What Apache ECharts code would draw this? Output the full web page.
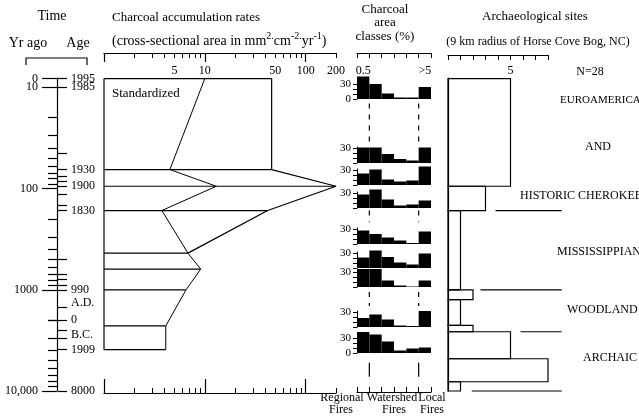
<!DOCTYPE html>
<html><head><meta charset="utf-8">
<script src="https://cdn.jsdelivr.net/npm/echarts@6/dist/echarts.min.js"></script>
<style>html,body{margin:0;padding:0;background:#fff}#c{width:639px;height:418px}</style>
</head><body><div id="c"></div>
<script>
// ===== DATA =====
const SURFACE = 8.2;            // 1995 core surface, placed at the top of the log "years ago" scale
const timeMin = 8.1, timeMax = 10000;
const yrAgoMajor = [SURFACE, 10, 100, 1000, 10000];
const yrAgoLabelPos = [10, 100, 1000, 10000];
const yrAgoLabels = ['10', '100', '1000', '10,000'];
const surfaceYrAgoLabel = '0';
const yrAgoMinor = [20,30,40,50,60,70,80,90,200,300,400,500,600,700,800,900,1995,2000,3000,4000,5000,6000,7000,8000,9000];
const calendarTicks = [SURFACE,10,45,65,75,85,95,115,145,165,495,695,795,895,1005,1495,1995,2495,2995,3904,9995];
const calendarLabelYrAgo = [10,65,95,165,1005,1350,1995,2780,3904,9995];
const calendarLabels = ['1985','1930','1900','1830','990','A.D.','0','B.C.','1909','8000'];
const surfaceCalendarLabel = '1995';

const sampleYrAgo = [SURFACE, 65, 95, 165, 435, 625, 1005, 2275, 3904];
const rateStandardized = [10, 4.5, 13, 3.75, 6.8, 9.1, 6.5, 4.1, 4.1];
const rateRaw = [46, 46, 200, 42, 6.8];
const rateTicksMajor = [1, 10, 100];
const rateTicksMinor = [2,3,4,5,6,7,8,9,20,30,40,50,60,70,80,90,200];
const rateLabels = [5, 10, 50, 100, 200];

const classBins = ['c1','c2','c3','c4','c5','c6'];
const classEdges = [0,1,2,3,4,5,6];
const classLabelAt = [0.5, 5.5];
const classLabelText = ['0.5', '>5'];
const histPercents = [
  [45,30,11,3,3,24],
  [31,31,18,8,5,31],
  [23,31,11,7,9,37],
  [27,37,17,5,7,15],
  [27,20,13,7,2,25],
  [21,35,22,11,7,29],
  [36,36,13,3,1,13],
  [18,25,15,3,2,32],
  [42,37,23,5,9,11]
];
const histTicks = [0,10,20,30];
// fire-type class boundaries (Regional | Watershed | Local): [classEdge, fromYrAgo, toYrAgo, dashed]
const fireDividers = [
  [1,14.5,36,1],[5,14.5,36,1],
  [1,165,215,1],[5,165,215,1],
  [1,1052,1446,1],[5,1052,1446,1],
  [1,5272,7244,0],[5,5272,7244,0]
];

const siteFrom  = [SURFACE, 95, 165, 1005, 1250, 2250, 2600, 4800, 8100];
const siteTo    = [95, 165, 1005, 1250, 2250, 2600, 4800, 8100, 10000];
const siteCount = [5, 3, 1, 2, 1, 2, 5, 8, 1];
const siteTicks = [0,1,2,3,4,5,6,7,8];
const siteLabels = [5];
const periodBoundaryYrAgo = [165, 1005, 2600, 10000];

// ===== LAYOUT =====
const FONT = '"Liberation Serif","Times New Roman",serif';
const K = '#000';
const TOP = 78, H = 313;
const histBaselinePx = [99, 163, 185, 208, 244, 268, 287, 327, 353];
const histHeightPx = 16, histMax = 32;
const histLabelSets = [[0,30],[30],[30],[30],[30],[30],[30],[30],[0,30]];
const periodLineExtent = [[3.8,9.1],[2.6,9.1],[5.8,9.1],[1.9,9.1]];

function nearest(v, pos, labels){
  let b=0,bd=Infinity;
  pos.forEach((p,i)=>{const d=Math.abs(Math.log(p)-Math.log(v)); if(d<bd){bd=d;b=i;}});
  return labels[b];
}
const lbl = (o)=>Object.assign({fontFamily:FONT,fontSize:12,color:K,showMinLabel:true,showMaxLabel:true,hideOverlap:false},o);

const grids = [
  {left:57, top:TOP, width:1, height:H},
  {left:104, top:TOP, width:232, height:H},
  {left:357, top:TOP, width:74, height:H},
  {left:448, top:TOP, width:100, height:H}
];
histBaselinePx.forEach(b=>grids.push({left:357, width:74, top:b-histHeightPx, height:histHeightPx}));

const logY = (g, extra)=>Object.assign({gridIndex:g, type:'log', min:timeMin, max:timeMax, inverse:true, splitLine:{show:false}}, extra);

const xAxes = [
  {gridIndex:0, type:'value', show:false},
  // charcoal top
  {gridIndex:1, type:'log', min:1, max:200, position:'top', offset:25, splitLine:{show:false},
   axisLine:{show:true, lineStyle:{color:K,width:1.2}},
   axisTick:{show:true, inside:true, length:9, customValues:rateTicksMajor, lineStyle:{color:K,width:1.2}},
   axisLabel:{show:false}},
  {gridIndex:1, type:'log', min:1, max:200, position:'top', offset:25, splitLine:{show:false},
   axisLine:{show:false},
   axisTick:{show:true, inside:true, length:5, customValues:rateTicksMinor, lineStyle:{color:K,width:1}},
   axisLabel:lbl({show:true, inside:true, margin:12, customValues:rateLabels, formatter:v=>String(Math.round(v))})},
  // charcoal bottom
  {gridIndex:1, type:'log', min:1, max:200, position:'bottom', offset:2, splitLine:{show:false},
   axisLine:{show:true, lineStyle:{color:K,width:1.2}},
   axisTick:{show:true, inside:true, length:14, customValues:rateTicksMajor, lineStyle:{color:K,width:1.2}},
   axisLabel:{show:false}},
  {gridIndex:1, type:'log', min:1, max:200, position:'bottom', offset:2, splitLine:{show:false},
   axisLine:{show:false},
   axisTick:{show:true, inside:true, length:5, customValues:rateTicksMinor, lineStyle:{color:K,width:1}},
   axisLabel:{show:false}},
  // class overlay
  {gridIndex:2, type:'value', min:0, max:6, position:'top', offset:25, splitLine:{show:false},
   axisLine:{show:true, lineStyle:{color:K,width:1.2}},
   axisTick:{show:true, inside:true, length:5, customValues:classEdges, lineStyle:{color:K,width:1}},
   axisLabel:lbl({show:true, inside:true, margin:12, customValues:classLabelAt, formatter:v=>v<3?classLabelText[0]:classLabelText[1]})},
  {gridIndex:2, type:'value', min:0, max:6, position:'bottom', offset:1, splitLine:{show:false},
   axisLine:{show:true, lineStyle:{color:K,width:1.2}},
   axisTick:{show:true, inside:true, length:5, customValues:classEdges, lineStyle:{color:K,width:1}},
   axisLabel:{show:false}},
  // archaeology
  {gridIndex:3, type:'value', min:0, max:8, position:'top', offset:23, splitLine:{show:false},
   axisLine:{show:true, lineStyle:{color:K,width:1.2}},
   axisTick:{show:true, inside:true, length:5, customValues:siteTicks, lineStyle:{color:K,width:1}},
   axisLabel:lbl({show:true, inside:true, margin:10, customValues:siteLabels})}
];
histPercents.forEach((_,i)=>xAxes.push({gridIndex:4+i, type:'category', data:classBins, show:false, boundaryGap:true}));

const yAxes = [
  logY(0,{position:'left',
    axisLine:{show:true, lineStyle:{color:K,width:1.2}},
    axisTick:{show:true, length:15, customValues:yrAgoMajor, lineStyle:{color:K,width:1.2}},
    axisLabel:lbl({show:true, margin:19, customValues:yrAgoLabelPos, formatter:v=>nearest(v,yrAgoLabelPos,yrAgoLabels)})}),
  logY(0,{position:'left',
    axisLine:{show:false},
    axisTick:{show:true, length:9, customValues:yrAgoMinor, lineStyle:{color:K,width:1.2}},
    axisLabel:lbl({show:true, margin:19, customValues:[SURFACE], formatter:()=>surfaceYrAgoLabel})}),
  logY(0,{position:'right',
    axisLine:{show:false},
    axisTick:{show:true, length:9, customValues:calendarTicks, lineStyle:{color:K,width:1.2}},
    axisLabel:lbl({show:true, margin:13, customValues:calendarLabelYrAgo, formatter:v=>nearest(v,calendarLabelYrAgo,calendarLabels)})}),
  logY(1,{show:false}),
  logY(2,{show:false}),
  logY(3,{show:true, position:'left', axisLine:{show:true, lineStyle:{color:K,width:1.2}}, axisTick:{show:false}, axisLabel:{show:false}}),
  logY(0,{position:'right',
    axisLine:{show:false}, axisTick:{show:false},
    axisLabel:lbl({show:true, margin:13, customValues:[SURFACE], formatter:()=>surfaceCalendarLabel})})
];
const HY0 = yAxes.length;
histPercents.forEach((_,i)=>yAxes.push({gridIndex:4+i, type:'value', min:0, max:histMax, position:'left',
  splitLine:{show:false},
  axisLine:{show:true, lineStyle:{color:K,width:1}},
  axisTick:{show:true, length:4, customValues:histTicks, lineStyle:{color:K,width:1}},
  axisLabel:lbl({show:true, fontSize:11, margin:6, customValues:histLabelSets[i]})}));

const series = [
  // charcoal: horizontal sample lines from the axis to the largest value
  {type:'custom', xAxisIndex:1, yAxisIndex:3, encode:{x:1, y:0},
   data: sampleYrAgo.map((y,i)=>[y, Math.max(rateStandardized[i], rateRaw[i]||0)]),
   renderItem:(p,api)=>{const a=api.coord([1,api.value(0)]), b=api.coord([api.value(1),api.value(0)]);
     return {type:'line', shape:{x1:a[0],y1:a[1],x2:b[0],y2:b[1]}, style:{stroke:K,lineWidth:1.2}};}},
  {type:'line', xAxisIndex:1, yAxisIndex:3, symbol:'none', lineStyle:{color:K,width:1.2},
   data:[[1,sampleYrAgo[0]],[1,sampleYrAgo[sampleYrAgo.length-1]]]},
  {type:'line', xAxisIndex:1, yAxisIndex:3, symbol:'none', lineStyle:{color:K,width:1},
   data: sampleYrAgo.map((y,i)=>[rateStandardized[i], y])},
  {type:'line', xAxisIndex:1, yAxisIndex:3, symbol:'none', lineStyle:{color:K,width:1.2},
   data: rateRaw.map((v,i)=>[v, sampleYrAgo[i]])},
  // fire-type dividers
  {type:'custom', xAxisIndex:5, yAxisIndex:4, encode:{x:0, y:1},
   data: fireDividers,
   renderItem:(p,api)=>{const a=api.coord([api.value(0),api.value(1)]), b=api.coord([api.value(0),api.value(2)]);
     return {type:'line', shape:{x1:a[0],y1:a[1],x2:b[0],y2:b[1]}, style:{stroke:K,lineWidth:1.2,lineDash:api.value(3)?[5,6]:null}};}},
  // archaeological site counts
  {type:'custom', xAxisIndex:7, yAxisIndex:5, encode:{x:2, y:[0,1]},
   data: siteFrom.map((f,i)=>[f, siteTo[i], siteCount[i]]),
   renderItem:(p,api)=>{const a=api.coord([0,api.value(0)]), b=api.coord([api.value(2),api.value(1)]);
     return {type:'rect', shape:{x:a[0],y:a[1],width:b[0]-a[0],height:b[1]-a[1]}, style:{fill:'rgba(0,0,0,0)',stroke:K,lineWidth:1.2}};}},
  {type:'custom', xAxisIndex:7, yAxisIndex:5, encode:{x:1, y:0},
   data: periodBoundaryYrAgo.map((y,i)=>[y, periodLineExtent[i][0], periodLineExtent[i][1]]),
   renderItem:(p,api)=>{const a=api.coord([api.value(1),api.value(0)]), b=api.coord([api.value(2),api.value(0)]);
     return {type:'line', shape:{x1:a[0],y1:a[1],x2:b[0],y2:b[1]}, style:{stroke:K,lineWidth:1.2}};}}
];
histPercents.forEach((d,i)=>series.push({type:'bar', xAxisIndex:8+i, yAxisIndex:HY0+i, data:d,
  barCategoryGap:'0%', itemStyle:{color:K}, clip:false, silent:true}));

const T = (text,x,y,align,size,extra)=>({type:'text', x, y, style:Object.assign({text, fill:K, font:(size||13)+'px '+FONT, align:align||'left', verticalAlign:'middle'}, extra||{})});
const graphic = [
  T('Time',52,16,'center',14),
  T('Yr ago',28,43,'center',14),
  T('Age',78,43,'center',14),
  {type:'polyline', shape:{points:[[26,65],[26,58],[87,58],[87,65]]}, style:{stroke:K,lineWidth:1.2,fill:null}},
  T('Charcoal accumulation rates',112,18,'left',13),
  {type:'text', x:112, y:41, style:{text:'(cross-sectional area in mm{s|2.}cm{s|-2.}yr{s|-1})', fill:K, font:'14px '+FONT, align:'left', verticalAlign:'middle',
    rich:{s:{fontSize:10, fontFamily:FONT, fill:K, padding:[0,0,9,0]}}}},
  T('Standardized',112,94,'left',13),
  T('Charcoal',385,10,'center',13),
  T('area',385,23,'center',13),
  T('classes (%)',385,37,'center',13),
  T('Archaeological sites',535,17,'center',13),
  T('(9 km radius of Horse Cove Bog, NC)',538,42,'center',12),
  T('N=28',590,72,'center',12),
  T('EUROAMERICAN',560,100,'left',11),
  T('AND',598,147,'center',12),
  T('HISTORIC CHEROKEE',520,196,'left',12),
  T('MISSISSIPPIAN',557,252,'left',12),
  T('WOODLAND',567,310,'left',12),
  T('ARCHAIC',583,358,'left',12),
  T('Regional',342,398,'center',12), T('Fires',341,410,'center',12),
  T('Watershed',392,398,'center',12), T('Fires',394,410,'center',12),
  T('Local',432,398,'center',12), T('Fires',432,410,'center',12)
];

const chart = echarts.init(document.getElementById('c'), null, {renderer:'canvas'});
chart.setOption({animation:false, backgroundColor:'#fff', grid:grids, xAxis:xAxes, yAxis:yAxes, series, graphic});
</script></body></html>
